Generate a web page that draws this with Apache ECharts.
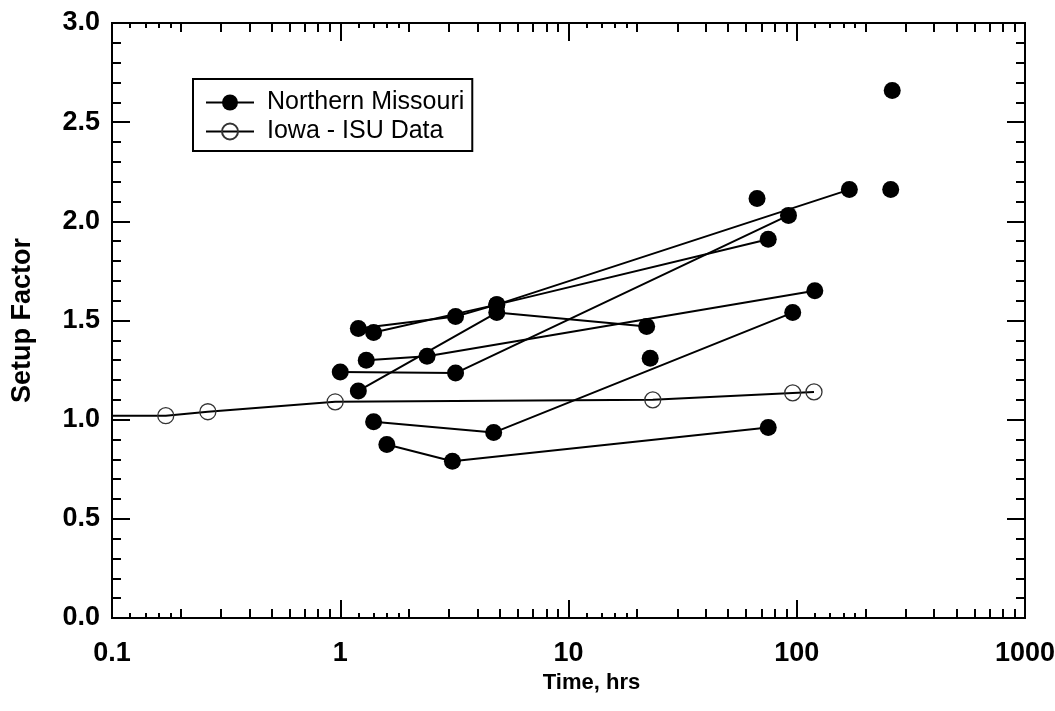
<!DOCTYPE html>
<html>
<head>
<meta charset="utf-8">
<script src="https://cdn.jsdelivr.net/npm/echarts@6/dist/echarts.min.js"></script>
<style>
  html, body { margin: 0; padding: 0; background: #fff; }
  #chart { width: 1055px; height: 711px; }
</style>
</head>
<body>
<div id="chart"></div>
<script>
// Northern Missouri sites: [time hrs, setup factor], one array per connected set
const nmSiteA = [[1.2, 1.46], [3.2, 1.52], [4.85, 1.58], [170, 2.16]];
const nmSiteB = [[1.4, 1.44], [4.85, 1.58], [75, 1.91]];
const nmSiteC = [[1.3, 1.30], [2.4, 1.32], [120, 1.65]];
const nmSiteD = [[1.0, 1.24], [3.2, 1.235], [92, 2.03]];
const nmSiteE = [[1.2, 1.145], [4.85, 1.54], [22, 1.47]];
const nmSiteF = [[1.4, 0.99], [4.7, 0.935], [96, 1.54]];
const nmSiteG = [[1.6, 0.875], [3.1, 0.79], [75, 0.96]];
const nmSingles = [[67, 2.115], [22.8, 1.31], [262, 2.66], [258, 2.16]];

// Iowa - ISU data (first point only carries the line to the axis)
const iowaIsu = [[0.1, 1.02], [0.172, 1.02], [0.263, 1.04], [0.95, 1.09], [23.4, 1.10], [96, 1.135], [119, 1.14]];

const decades = [0.1, 1, 10, 100];
const minorSteps = [2, 3, 4, 5, 6, 7, 8, 9];
const smallSteps = [1.2, 1.4, 1.6, 1.8];

const minorTicks = [];
const smallTicks = [];
decades.forEach(d => {
    minorSteps.forEach(s => minorTicks.push(+(d * s).toPrecision(3)));
    smallSteps.forEach(s => smallTicks.push(+(d * s).toPrecision(3)));
});

const labelFont = "'Liberation Sans', Arial, sans-serif";
const black = '#000';

function logAxis(position, ticks, len, showLabel) {
    const ax = {
        type: 'log',
        logBase: 10,
        min: 0.1,
        max: 1000,
        position: position,
        axisLine: { show: true, onZero: false, lineStyle: { color: black, width: 2 } },
        axisTick: { show: true, inside: true, length: len, lineStyle: { color: black, width: 2 } },
        axisLabel: { show: false },
        splitLine: { show: false }
    };
    if (ticks) ax.axisTick.customValues = ticks;
    if (showLabel) {
        ax.axisLabel = {
            show: true, margin: 22, color: black,
            fontFamily: labelFont, fontWeight: 'bold', fontSize: 27,
            formatter: v => String(+Number(v).toPrecision(3))
        };
        ax.name = 'Time, hrs';
        ax.nameLocation = 'middle';
        ax.nameGap = 49;
        ax.nameTextStyle = { color: black, fontFamily: labelFont, fontWeight: 'bold', fontSize: 22, padding: [0, 0, 0, 46] };
    }
    return ax;
}

function valAxis(position, showLabel) {
    const ax = {
        type: 'value',
        min: 0,
        max: 3,
        interval: 0.5,
        position: position,
        axisLine: { show: true, onZero: false, lineStyle: { color: black, width: 2 } },
        axisTick: { show: true, inside: true, length: 18, lineStyle: { color: black, width: 2 } },
        minorTick: { show: true, splitNumber: 5, length: 9, lineStyle: { color: black, width: 2 } },
        axisLabel: { show: false },
        splitLine: { show: false }
    };
    if (showLabel) {
        ax.axisLabel = {
            show: true, margin: 12, color: black,
            fontFamily: labelFont, fontWeight: 'bold', fontSize: 27,
            formatter: v => v.toFixed(1)
        };
        ax.name = 'Setup Factor';
        ax.nameLocation = 'middle';
        ax.nameGap = 76;
        ax.nameTextStyle = { color: black, fontFamily: labelFont, fontWeight: 'bold', fontSize: 27 };
    }
    return ax;
}

function nmLine(data) {
    return {
        name: 'Northern Missouri',
        type: 'line',
        data: data,
        symbol: 'circle',
        symbolSize: 17,
        itemStyle: { color: black, opacity: 1 },
        lineStyle: { color: black, width: 2 },
        z: 3
    };
}

const chart = echarts.init(document.getElementById('chart'));

chart.setOption({
    animation: false,
    backgroundColor: '#fff',
    grid: { left: 112, right: 30, top: 23, bottom: 93, outerBoundsMode: 'none', containLabel: false },
    xAxis: [
        logAxis('bottom', null, 18, true),
        logAxis('bottom', minorTicks, 9, false),
        logAxis('bottom', smallTicks, 5, false),
        logAxis('top', null, 18, false),
        logAxis('top', minorTicks, 9, false),
        logAxis('top', smallTicks, 5, false)
    ],
    yAxis: [valAxis('left', true), valAxis('right', false)],
    legend: {
        left: 193,
        top: 79,
        orient: 'vertical',
        itemWidth: 48,
        itemHeight: 20,
        itemGap: 0,
        padding: [9, 8, 5, 12],
        borderColor: black,
        borderWidth: 2,
        borderRadius: 0,
        data: ['Northern Missouri', 'Iowa - ISU Data'],
        textStyle: {
            color: black, fontSize: 25, lineHeight: 29,
            fontFamily: labelFont,
            padding: [0, 0, 0, 8]
        }
    },
    series: [
        nmLine(nmSiteA),
        nmLine(nmSiteB),
        nmLine(nmSiteC),
        nmLine(nmSiteD),
        nmLine(nmSiteE),
        nmLine(nmSiteF),
        nmLine(nmSiteG),
        {
            name: 'Northern Missouri',
            type: 'scatter',
            data: nmSingles,
            symbol: 'circle',
            symbolSize: 17,
            itemStyle: { color: black, opacity: 1 },
            z: 3
        },
        {
            name: 'Iowa - ISU Data',
            type: 'line',
            data: iowaIsu.map((p, i) => i === 0 ? { value: p, symbol: 'none' } : p),
            symbol: 'circle',
            symbolSize: 16,
            itemStyle: { color: 'rgba(0,0,0,0)', borderColor: '#333', borderWidth: 1.3 },
            lineStyle: { color: black, width: 2 },
            z: 2
        }
    ]
});
</script>
</body>
</html>
